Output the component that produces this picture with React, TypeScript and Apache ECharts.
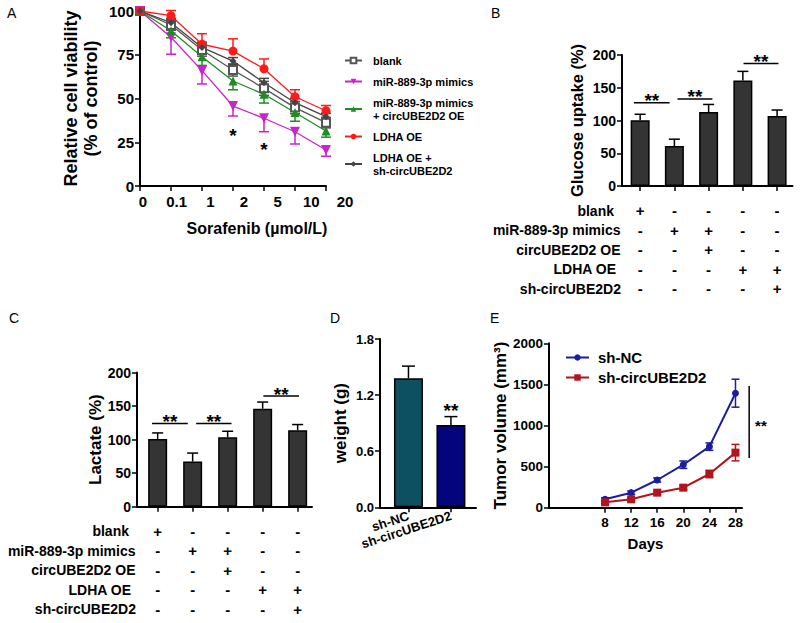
import React, { useEffect, useRef } from "react";
import * as echarts from "echarts";

const FONT = "'Liberation Sans', Arial, Helvetica, sans-serif";

// ---------- Panel A: cell viability ----------
const doses = ["0", "0.1", "1", "2", "5", "10", "20"];
const seriesNamesA = [
  "blank",
  "miR-889-3p mimics",
  "miR-889-3p mimics\n+ circUBE2D2 OE",
  "LDHA OE",
  "LDHA OE +\nsh-circUBE2D2",
];
const blankMean = [100, 92, 77.7, 66.3, 55.8, 44.8, 36.2];
const blankErr = [0, 3, 3.5, 3.5, 4, 3.5, 3];
const mimicsMean = [100, 85, 65.9, 45.7, 38.7, 31, 20.6];
const mimicsErr = [0, 9.7, 7.6, 5.7, 7.7, 7, 3.6];
const mimicsCircMean = [100, 88.7, 73.9, 60, 52.4, 42, 31.4];
const mimicsCircErr = [0, 4, 5, 5, 5, 5, 3.5];
const ldhaMean = [100, 97.3, 81, 77.1, 67, 51, 43];
const ldhaErr = [0, 3, 6, 7, 5.6, 4, 3];
const ldhaShMean = [100, 93.3, 79.2, 71.4, 59, 47.6, 39.6];
const ldhaShErr = [0, 2.5, 3, 2, 2.5, 2.5, 2];
const starsA = [[3, 29], [4, 20.6]];

// ---------- Panels B & C: glucose uptake / lactate ----------
const conditions = ["blank", "miR-889-3p mimics", "circUBE2D2 OE", "LDHA OE", "sh-circUBE2D2"];
const groupSigns = [
  ["+", "-", "-", "-", "-"],
  ["-", "+", "+", "-", "-"],
  ["-", "-", "+", "-", "-"],
  ["-", "-", "-", "+", "+"],
  ["-", "-", "-", "-", "+"],
];
const glucoseMean = [100.5, 61, 113, 161, 107];
const glucoseErr = [9, 10.5, 11.5, 14, 9];
const glucoseSig = [[-0.18, 0.86, 127], [1.09, 2.11, 133], [3.02, 4.04, 187]];
const lactateMean = [101, 67.5, 103.5, 146, 114];
const lactateErr = [9, 12.5, 9, 10, 8.5];
const lactateSig = [[-0.16, 0.86, 124], [1.1, 2.11, 124], [3.02, 4.04, 165]];

// ---------- Panel D: tumor weight ----------
const groupsD = ["sh-NC", "sh-circUBE2D2"];
const weightMean = [1.38, 0.88];
const weightErr = [0.13, 0.09];
const starsD = [[1, 1.03]];

// ---------- Panel E: tumor volume ----------
const days = [8, 12, 16, 20, 24, 28];
const shNC = [102, 183, 337, 523, 743, 1393];
const shNCErr = [20, 20, 25, 45, 45, 170];
const shCirc = [65, 102, 183, 244, 410, 670];
const shCircErr = [15, 20, 25, 25, 45, 100];
const sigE = [[30.1, 605, 1481]];
const starsE = [[31.9, 994]];

const txt = (size: number, weight: any = "bold") => ({
  fontSize: size,
  fontWeight: weight,
  color: "#000",
  fontFamily: FONT,
});
const axLine = { show: true, onZero: false, lineStyle: { color: "#000", width: 2 } };
const axTick = (len = 4) => ({ show: true, length: len, lineStyle: { color: "#000", width: 1.5 } });

function errRender(color: string, capW: number, lw = 1.5) {
  return (params: any, api: any) => {
    const x = api.value(0);
    const v = api.value(1);
    const up = api.value(2);
    const dn = api.value(3);
    const pTop = api.coord([x, v + up]);
    const pBot = api.coord([x, v - dn]);
    const st = { stroke: color, lineWidth: lw };
    const ch: any[] = [
      { type: "line", shape: { x1: pTop[0], y1: pTop[1], x2: pBot[0], y2: pBot[1] }, style: st },
    ];
    if (up > 0)
      ch.push({
        type: "line",
        shape: { x1: pTop[0] - capW / 2, y1: pTop[1], x2: pTop[0] + capW / 2, y2: pTop[1] },
        style: st,
      });
    if (dn > 0)
      ch.push({
        type: "line",
        shape: { x1: pBot[0] - capW / 2, y1: pBot[1], x2: pBot[0] + capW / 2, y2: pBot[1] },
        style: st,
      });
    return { type: "group", children: ch };
  };
}

function errSeries(xi: number, yi: number, data: number[][], color: string, capW: number, z = 3) {
  return {
    type: "custom",
    xAxisIndex: xi,
    yAxisIndex: yi,
    encode: { x: 0, y: 1 },
    data,
    z,
    silent: true,
    renderItem: errRender(color, capW),
  };
}

function starSeries(xi: number, yi: number, data: number[][], text: string, size: number) {
  return {
    type: "custom",
    xAxisIndex: xi,
    yAxisIndex: yi,
    encode: { x: 0, y: 1 },
    data,
    z: 6,
    silent: true,
    renderItem: (params: any, api: any) => {
      const p = api.coord([api.value(0), api.value(1)]);
      return {
        type: "text",
        style: {
          text,
          x: p[0],
          y: p[1],
          align: "center",
          verticalAlign: "middle",
          fontSize: size,
          fontWeight: "bold",
          fontFamily: FONT,
          fill: "#000",
        },
      };
    },
  };
}

function bracketSeries(xi: number, yi: number, data: number[][]) {
  return {
    type: "custom",
    xAxisIndex: xi,
    yAxisIndex: yi,
    encode: { x: [0, 1], y: 2 },
    data,
    z: 6,
    silent: true,
    renderItem: (params: any, api: any) => {
      const a = api.coord([api.value(0), api.value(2)]);
      const b = api.coord([api.value(1), api.value(2)]);
      return {
        type: "group",
        children: [
          { type: "line", shape: { x1: a[0], y1: a[1], x2: b[0], y2: b[1] }, style: { stroke: "#000", lineWidth: 1.5 } },
          {
            type: "text",
            style: {
              text: "**",
              x: (a[0] + b[0]) / 2,
              y: a[1] - 2,
              align: "center",
              verticalAlign: "middle",
              fontSize: 19,
              fontWeight: "bold",
              fontFamily: FONT,
              fill: "#000",
            },
          },
        ],
      };
    },
  };
}

function vLineSeries(xi: number, yi: number, data: number[][]) {
  return {
    type: "custom",
    xAxisIndex: xi,
    yAxisIndex: yi,
    encode: { x: 0, y: [1, 2] },
    data,
    z: 6,
    silent: true,
    renderItem: (params: any, api: any) => {
      const a = api.coord([api.value(0), api.value(1)]);
      const b = api.coord([api.value(0), api.value(2)]);
      return { type: "line", shape: { x1: a[0], y1: a[1], x2: b[0], y2: b[1] }, style: { stroke: "#000", lineWidth: 1.5 } };
    },
  };
}

const rowNameGaps = [8, 1.5, 1.5, 6, 1];

function tableAxes(gridIndex: number, min: number, max: number) {
  return conditions.map((c, r) => ({
    gridIndex,
    type: "value",
    min,
    max,
    position: "bottom",
    offset: 24.5 + 19.5 * r,
    axisLine: { show: false, onZero: false },
    axisTick: { show: false },
    splitLine: { show: false },
    axisLabel: {
      show: true,
      customValues: [0, 1, 2, 3, 4],
      formatter: (v: number) => groupSigns[r][Math.round(v)],
      margin: 0,
      verticalAlign: "middle",
      ...txt(15),
    },
    name: c,
    nameLocation: "start",
    nameGap: rowNameGaps[r],
    nameTextStyle: { ...txt(14), align: "right", verticalAlign: "middle" },
  }));
}

function buildOption() {
  const grids = [
    { left: 140, top: 11, width: 186, height: 175 }, // A
    { left: 143, top: 11, width: 202, height: 175 }, // A tick labels
    { left: 622, top: 55, width: 170.5, height: 131 }, // B
    { left: 137, top: 372.5, width: 175, height: 134.3 }, // C
    { left: 380, top: 339, width: 96, height: 168.3 }, // D
    { left: 549, top: 343.3, width: 193, height: 164.4 }, // E
  ].map((g) => ({ ...g, containLabel: false, outerBoundsMode: "none", show: false }));

  const xAxes: any[] = [];
  // 0: A main
  xAxes.push({
    gridIndex: 0,
    type: "category",
    data: doses,
    boundaryGap: false,
    axisLine: axLine,
    axisTick: { ...axTick(5), interval: 0 },
    axisLabel: { show: false },
    splitLine: { show: false },
    name: "Sorafenib (µmol/L)",
    nameLocation: "middle",
    nameGap: 34,
    nameTextStyle: { ...txt(16), padding: [0, 0, 0, 48] },
  });
  // 1: A tick labels
  xAxes.push({
    gridIndex: 1,
    type: "category",
    data: doses,
    boundaryGap: false,
    axisLine: { show: false, onZero: false },
    axisTick: { show: false },
    axisLabel: { ...txt(15), margin: 8, interval: 0 },
    splitLine: { show: false },
  });
  // 2: B main
  xAxes.push({
    gridIndex: 2,
    type: "value",
    min: -0.53,
    max: 4.45,
    axisLine: axLine,
    axisTick: { ...axTick(5), customValues: [0, 1, 2, 3, 4] },
    axisLabel: { show: false },
    splitLine: { show: false },
  });
  // 3-7: B table rows
  xAxes.push(...tableAxes(2, -0.53, 4.45));
  // 8: C main
  xAxes.push({
    gridIndex: 3,
    type: "value",
    min: -0.59,
    max: 4.41,
    axisLine: axLine,
    axisTick: { ...axTick(5), customValues: [0, 1, 2, 3, 4] },
    axisLabel: { show: false },
    splitLine: { show: false },
  });
  // 9-13: C table rows
  xAxes.push(...tableAxes(3, -0.59, 4.41));
  // 14: D
  xAxes.push({
    gridIndex: 4,
    type: "value",
    min: -0.67,
    max: 1.59,
    axisLine: axLine,
    axisTick: { ...axTick(5), customValues: [0, 1] },
    axisLabel: {
      ...txt(13),
      customValues: [0, 1],
      formatter: (v: number) => groupsD[Math.round(v)],
      rotate: 18,
      margin: 8,
    },
    splitLine: { show: false },
  });
  // 15: E
  xAxes.push({
    gridIndex: 5,
    type: "value",
    min: -0.6,
    max: 29,
    axisLine: axLine,
    axisTick: { ...axTick(5), customValues: days },
    axisLabel: { ...txt(13.5), customValues: days, margin: 8, formatter: (v: number) => String(v) },
    splitLine: { show: false },
    name: "Days",
    nameLocation: "middle",
    nameGap: 28,
    nameTextStyle: txt(15),
  });

  const yName = (name: string, gap: number, size: number, extra: any = {}) => ({
    name,
    nameLocation: "middle",
    nameGap: gap,
    nameRotate: 90,
    nameTextStyle: { ...txt(size), ...extra },
  });

  const yAxes: any[] = [
    {
      gridIndex: 0,
      type: "value",
      min: 0,
      max: 100,
      interval: 25,
      axisLine: axLine,
      axisTick: axTick(5),
      axisLabel: { ...txt(15), margin: 6 },
      splitLine: { show: false },
      ...yName("Relative cell viability\n(% of control)", 39, 18, { lineHeight: 20 }),
    },
    { gridIndex: 1, type: "value", min: 0, max: 100, show: false, axisLine: { show: false, onZero: false } },
    {
      gridIndex: 2,
      type: "value",
      min: 0,
      max: 200,
      interval: 50,
      axisLine: axLine,
      axisTick: axTick(5),
      axisLabel: { ...txt(14), margin: 6 },
      splitLine: { show: false },
      ...yName("Glucose uptake (%)", 37, 16.5),
    },
    {
      gridIndex: 3,
      type: "value",
      min: 0,
      max: 200,
      interval: 50,
      axisLine: axLine,
      axisTick: axTick(5),
      axisLabel: { ...txt(14), margin: 6 },
      splitLine: { show: false },
      ...yName("Lactate (%)", 33, 17),
    },
    {
      gridIndex: 4,
      type: "value",
      min: 0,
      max: 1.8,
      interval: 0.6,
      axisLine: axLine,
      axisTick: axTick(5),
      axisLabel: { ...txt(13), margin: 6, formatter: (v: number) => v.toFixed(1) },
      splitLine: { show: false },
      ...yName("weight (g)", 31, 17),
    },
    {
      gridIndex: 5,
      type: "value",
      min: 0,
      max: 2000,
      interval: 500,
      axisLine: axLine,
      axisTick: axTick(5),
      axisLabel: { ...txt(13.5), margin: 6, formatter: (v: number) => String(v) },
      splitLine: { show: false },
      ...yName("Tumor volume (mm³)", 35, 17),
    },
  ];

  const aDefs = [
    { name: seriesNamesA[0], mean: blankMean, err: blankErr, up: true, dn: true, color: "#555555", symbol: "emptyRect", size: 8, rot: 0 },
    { name: seriesNamesA[1], mean: mimicsMean, err: mimicsErr, up: false, dn: true, color: "#cc22cc", symbol: "triangle", size: 10, rot: 180 },
    { name: seriesNamesA[2], mean: mimicsCircMean, err: mimicsCircErr, up: false, dn: true, color: "#1e8c1e", symbol: "triangle", size: 9, rot: 0 },
    { name: seriesNamesA[3], mean: ldhaMean, err: ldhaErr, up: true, dn: false, color: "#ff1a1a", symbol: "circle", size: 9, rot: 0 },
    { name: seriesNamesA[4], mean: ldhaShMean, err: ldhaShErr, up: true, dn: true, color: "#444444", symbol: "diamond", size: 7, rot: 0 },
  ];

  const series: any[] = [];
  aDefs.forEach((d) => {
    series.push({
      type: "line",
      name: d.name,
      xAxisIndex: 0,
      yAxisIndex: 0,
      data: d.mean,
      symbol: d.symbol,
      symbolSize: d.size,
      symbolRotate: d.rot,
      lineStyle: { color: d.color, width: 1.3 },
      itemStyle: { color: d.color, borderColor: d.color, borderWidth: d.symbol === "emptyRect" ? 1.3 : 0 },
      z: 4,
    });
    series.push(
      errSeries(
        0,
        0,
        d.mean.map((m, i) => [i, m, d.up ? d.err[i] : 0, d.dn ? d.err[i] : 0]),
        d.color,
        10
      )
    );
  });
  series.push(starSeries(0, 0, starsA, "*", 19));

  // B
  series.push({
    type: "bar",
    xAxisIndex: 2,
    yAxisIndex: 2,
    data: glucoseMean.map((v, i) => [i, v]),
    barWidth: 19,
    itemStyle: { color: "#343434", borderColor: "#000", borderWidth: 1.5 },
    z: 4,
  });
  series.push(errSeries(2, 2, glucoseMean.map((v, i) => [i, v, glucoseErr[i], 0]), "#000", 11));
  series.push(bracketSeries(2, 2, glucoseSig));

  // C
  series.push({
    type: "bar",
    xAxisIndex: 8,
    yAxisIndex: 3,
    data: lactateMean.map((v, i) => [i, v]),
    barWidth: 19,
    itemStyle: { color: "#343434", borderColor: "#000", borderWidth: 1.5 },
    z: 4,
  });
  series.push(errSeries(8, 3, lactateMean.map((v, i) => [i, v, lactateErr[i], 0]), "#000", 11));
  series.push(bracketSeries(8, 3, lactateSig));

  // D
  const dColors = ["#0c5062", "#04057c"];
  series.push({
    type: "bar",
    xAxisIndex: 14,
    yAxisIndex: 4,
    data: weightMean.map((v, i) => ({ value: [i, v], itemStyle: { color: dColors[i] } })),
    barWidth: 29,
    itemStyle: { borderColor: "#000", borderWidth: 1.5 },
    z: 4,
  });
  series.push(errSeries(14, 4, weightMean.map((v, i) => [i, v, weightErr[i], 0]), "#000", 13));
  series.push(starSeries(14, 4, starsD, "**", 19));

  // E
  const eDefs = [
    { name: "sh-NC", mean: shNC, err: shNCErr, color: "#1c1ca0", symbol: "circle", size: 7 },
    { name: "sh-circUBE2D2", mean: shCirc, err: shCircErr, color: "#b0141c", symbol: "rect", size: 8 },
  ];
  eDefs.forEach((d) => {
    series.push({
      type: "line",
      name: d.name,
      xAxisIndex: 15,
      yAxisIndex: 5,
      data: days.map((x, i) => [x, d.mean[i]]),
      symbol: d.symbol,
      symbolSize: d.size,
      lineStyle: { color: d.color, width: 2 },
      itemStyle: { color: d.color },
      z: 4,
    });
    series.push(errSeries(15, 5, days.map((x, i) => [x, d.mean[i], d.err[i], d.err[i]]), d.color, 8));
  });
  series.push(vLineSeries(15, 5, sigE));
  series.push(starSeries(15, 5, starsE, "**", 15));

  const letter = (t: string, x: number, y: number) => ({
    type: "text",
    left: x,
    top: y,
    style: { text: t, fontSize: 14, fontFamily: FONT, fill: "#000" },
  });

  return {
    animation: false,
    backgroundColor: "#fff",
    textStyle: { fontFamily: FONT },
    grid: grids,
    xAxis: xAxes,
    yAxis: yAxes,
    legend: [
      {
        left: 344,
        top: 54,
        padding: 0,
        orient: "vertical",
        itemWidth: 17,
        itemHeight: 7,
        itemGap: 8,
        selectedMode: false,
        data: seriesNamesA,
        textStyle: { ...txt(11), lineHeight: 13, padding: [0, 0, 0, 6] },
      },
      {
        left: 565,
        top: 350,
        padding: 0,
        orient: "vertical",
        itemWidth: 23,
        itemHeight: 8,
        itemGap: 5,
        selectedMode: false,
        data: ["sh-NC", "sh-circUBE2D2"],
        textStyle: { ...txt(15), padding: [0, 0, 0, 4] },
      },
    ],
    graphic: [
      letter("A", 7, 6),
      letter("B", 491, 6),
      letter("C", 9, 311),
      letter("D", 330, 311),
      letter("E", 490, 311),
    ],
    series,
  };
}

export default function App() {
  const ref = useRef<HTMLDivElement>(null);
  useEffect(() => {
    const chart = echarts.init(ref.current!, null, { renderer: "svg" });
    chart.setOption(buildOption() as any);
    return () => chart.dispose();
  }, []);
  return (
    <div
      ref={ref}
      style={{ position: "absolute", left: 0, top: 0, width: 800, height: 623, background: "#fff" }}
    />
  );
}
